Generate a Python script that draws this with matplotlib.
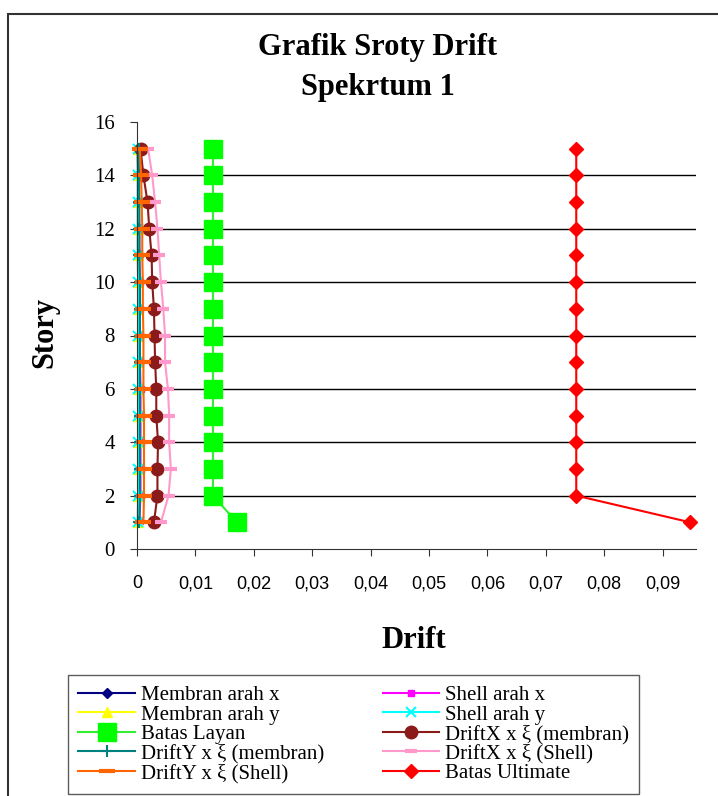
import numpy as np
import matplotlib.pyplot as plt
from matplotlib.patches import Rectangle

# --- Data ---
story = np.arange(1, 16)

membran_x = [0.0003, 0.0004, 0.0004, 0.0004, 0.0004, 0.0004, 0.0004, 0.0004,
             0.0004, 0.0003, 0.0003, 0.0003, 0.0002, 0.0002, 0.0001]
shell_x = [0.0004, 0.0006, 0.0006, 0.0006, 0.0006, 0.0006, 0.0005, 0.0005,
           0.0005, 0.0005, 0.0004, 0.0004, 0.0003, 0.0003, 0.0002]
membran_y = [0.0001, 0.0001, 0.0001, 0.0001, 0.0001, 0.0001, 0.0001, 0.0001,
             0.0001, 0.0001, 0.0001, 0.0001, 0.0001, 0.0001, 0.0001]
shell_y = [0.0001, 0.0002, 0.0002, 0.0002, 0.0002, 0.0002, 0.0002, 0.0002,
           0.0002, 0.0002, 0.0001, 0.0001, 0.0001, 0.0001, 0.0001]
batas_layan = [0.0171, 0.0130, 0.0130, 0.0130, 0.0130, 0.0130, 0.0130, 0.0130,
               0.0130, 0.0130, 0.0130, 0.0130, 0.0130, 0.0130, 0.0130]
driftx_membran = [0.0029, 0.0035, 0.0035, 0.0036, 0.0033, 0.0033, 0.0031, 0.0030,
                  0.0029, 0.0026, 0.0025, 0.0021, 0.0018, 0.0011, 0.0006]
drifty_membran = [0.0004, 0.0005, 0.0005, 0.0005, 0.0005, 0.0005, 0.0005, 0.0005,
                  0.0005, 0.0005, 0.0004, 0.0004, 0.0004, 0.0003, 0.0003]
driftx_shell = [0.0041, 0.0054, 0.0058, 0.0055, 0.0055, 0.0053, 0.0048, 0.0048,
                0.0045, 0.0041, 0.0038, 0.0035, 0.0031, 0.0026, 0.0019]
drifty_shell = [0.0011, 0.0012, 0.0012, 0.0012, 0.0012, 0.0011, 0.0011, 0.0011,
                0.0010, 0.0010, 0.0009, 0.0009, 0.0008, 0.0007, 0.0005]
batas_ultimate = [0.0947, 0.0752, 0.0752, 0.0752, 0.0752, 0.0752, 0.0752, 0.0752,
                  0.0752, 0.0752, 0.0752, 0.0752, 0.0752, 0.0752, 0.0752]

x_ticks = [0, 0.01, 0.02, 0.03, 0.04, 0.05, 0.06, 0.07, 0.08, 0.09]
x_tick_labels = ["0", "0,01", "0,02", "0,03", "0,04", "0,05", "0,06", "0,07", "0,08", "0,09"]
y_ticks = [0, 2, 4, 6, 8, 10, 12, 14, 16]

serif = "Liberation Serif"
sans = "Liberation Sans"

# --- Plot ---
W, H = 718, 796
fig = plt.figure(figsize=(W / 100, H / 100), dpi=100)
ax = fig.add_axes([137 / W, 1 - 549 / H, (696 - 137) / W, (549 - 122) / H])

xmax = 0.0957
ax.hlines(np.arange(2, 16, 2), 0, xmax, color="black", lw=1, zorder=0)

h = []
h += ax.plot(membran_x, story, color="#000080", marker="D", ms=5, lw=1.5, label="Membran arah x")
h += ax.plot(shell_x, story, color="#ff00ff", marker="s", ms=5, lw=1.5, label="Shell arah x")
h += ax.plot(membran_y, story, color="#ffff00", marker="^", ms=7, lw=1.5, label="Membran arah y")
h += ax.plot(shell_y, story, color="#00ffff", marker="x", ms=7, mew=1.5, lw=1.5, label="Shell arah y")
h += ax.plot(batas_layan, story, color="#33ee33", marker="s", ms=13, mfc="#00ff00", mec="#00ff00",
             lw=1.5, label="Batas Layan")
h += ax.plot(driftx_membran, story, color="#8b1a1a", marker="o", ms=9, lw=1.5,
             label="DriftX x ξ (membran)")
h += ax.plot(drifty_membran, story, color="#008080", marker="+", ms=9, mew=1.5, lw=1.5,
             label="DriftY x ξ (membran)")
h += ax.plot(driftx_shell, story, color="#ff99cc", marker="_", ms=9, mew=3, lw=1.5,
             label="DriftX x ξ (Shell)")
h += ax.plot(drifty_shell, story, color="#ff6600", marker="_", ms=11, mew=3, lw=1.5,
             label="DriftY x ξ (Shell)")
h += ax.plot(batas_ultimate, story, color="#ff0000", marker="D", ms=7, lw=1.5,
             label="Batas Ultimate")
for line in h:
    line.set_clip_on(False)

ax.set_xlim(0, xmax)
ax.set_ylim(0, 16)
ax.set_xticks(x_ticks)
ax.set_xticklabels(x_tick_labels, fontname=sans, fontsize=13)
ax.set_yticks(y_ticks)
ax.set_yticklabels([str(v) for v in y_ticks], fontname=serif, fontsize=15)
ax.tick_params(axis="x", direction="out", length=5, pad=14, color="#333333")
ax.tick_params(axis="y", direction="out", length=5, pad=11, color="#333333")
for s in ["top", "right"]:
    ax.spines[s].set_visible(False)
for s in ["left", "bottom"]:
    ax.spines[s].set_color("#333333")
ax.patch.set_alpha(0)

# titles and axis labels
fig.text(378 / W, 1 - 47 / H, "Grafik Sroty Drift", ha="center", va="center",
         fontname=serif, fontweight="bold", fontsize=22)
fig.text(378 / W, 1 - 87 / H, "Spekrtum 1", ha="center", va="center",
         fontname=serif, fontweight="bold", fontsize=22)
fig.text(45 / W, 1 - 333 / H, "Story", ha="center", va="center", rotation=90,
         fontname=serif, fontweight="bold", fontsize=22)
fig.text(414 / W, 1 - 641 / H, "Drift", ha="center", va="center",
         fontname=serif, fontweight="bold", fontsize=22)

# legend: two columns, filled column-first
order = [0, 2, 4, 6, 8, 1, 3, 5, 7, 9]
leg = fig.legend([h[i] for i in order], [h[i].get_label() for i in order],
                 loc="upper left", bbox_to_anchor=(68 / W, 1 - 675 / H), ncol=2,
                 prop={"family": serif, "size": 15}, frameon=True, fancybox=False,
                 handlelength=2.7, handletextpad=0.3, labelspacing=0.0,
                 columnspacing=2.8, borderpad=0.5, borderaxespad=0)
leg.get_frame().set_edgecolor("#333333")
leg.get_frame().set_linewidth(1.0)

# chart border (cropped on right and bottom)
fig.patches.append(Rectangle((8 / W, -0.05), 1.0, 1.05 - 14 / H, transform=fig.transFigure,
                             fill=False, ec="#333333", lw=1.5))

fig.savefig("out.png", dpi=100)
